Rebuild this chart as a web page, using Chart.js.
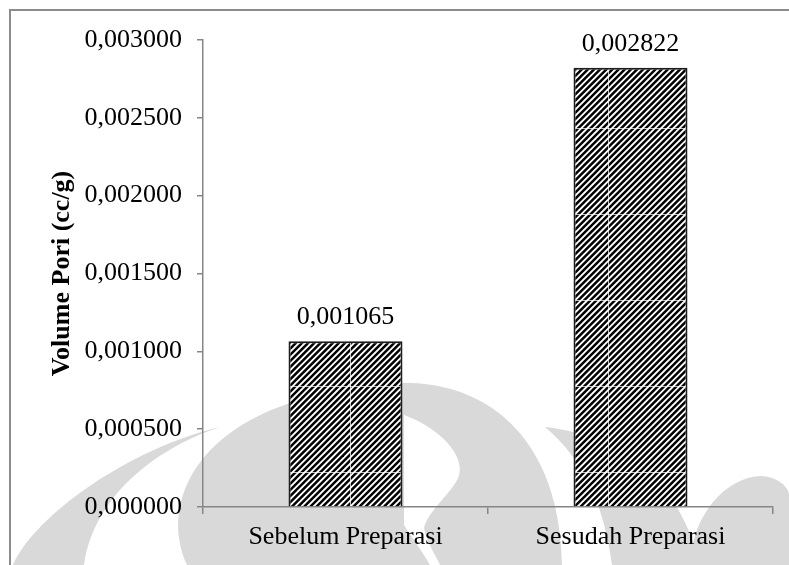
<!DOCTYPE html>
<html>
<head>
<meta charset="utf-8">
<title>Volume Pori</title>
<script src="https://cdn.jsdelivr.net/npm/chart.js@4.4.1/dist/chart.umd.min.js"></script>
<style>
  html, body { margin: 0; padding: 0; background: #fff; }
  #wrap { width: 789px; height: 565px; position: relative; }
</style>
</head>
<body>
<div id="wrap"><canvas id="poreChart"></canvas></div>
<script>
const categories = ["Sebelum Preparasi", "Sesudah Preparasi"];
const poreVolume = [0.001065, 0.002822];
const yTicks = [0, 0.0005, 0.001, 0.0015, 0.002, 0.0025, 0.003];

const SERIF = "'Liberation Serif', 'Times New Roman', serif";
const AXIS_GREY = "#868686";

// comma decimal, six places
const fmt = v => v.toFixed(6).replace(".", ",");

// wide upward diagonal hatch, tiled every 86px (the tile seams stay faintly visible)
function makeHatch(ctx) {
  const size = 86, n = 14, step = size / n;
  const tile = document.createElement("canvas");
  tile.width = size;
  tile.height = size;
  const t = tile.getContext("2d");
  t.fillStyle = "#fff";
  t.fillRect(0, 0, size, size);
  t.strokeStyle = "#000";
  t.lineWidth = 2.5;
  for (let i = -2; i <= 2 * n + 2; i++) {
    const c = i * step;
    t.beginPath();
    t.moveTo(c + 10, -10);
    t.lineTo(c - size - 10, size + 10);
    t.stroke();
  }
  t.fillStyle = "rgba(255,255,255,0.75)";
  t.fillRect(6, 0, 1, size);
  t.fillRect(0, 42, size, 1);
  return ctx.createPattern(tile, "repeat");
}

// page frame and the grey logo watermark behind the chart
const backdrop = {
  id: "backdrop",
  beforeDraw(chart) {
    const c = chart.ctx;
    c.save();
    c.fillStyle = "#d9d9d9";

    c.beginPath();
    c.moveTo(13, 565);
    c.bezierCurveTo(35, 515, 130, 448, 220, 427);
    c.bezierCurveTo(165, 445, 95, 490, 84, 565);
    c.closePath();
    c.fill();

    c.beginPath();
    c.moveTo(187, 565);
    c.bezierCurveTo(160, 505, 195, 430, 300, 400);
    c.bezierCurveTo(340, 388, 380, 383, 410, 383);
    c.bezierCurveTo(490, 385, 560, 440, 562, 565);
    c.closePath();
    c.fill();

    c.beginPath();
    c.moveTo(545, 427);
    c.bezierCurveTo(620, 435, 680, 480, 700, 565);
    c.lineTo(612, 565);
    c.bezierCurveTo(605, 510, 585, 460, 545, 427);
    c.closePath();
    c.fill();

    c.beginPath();
    c.moveTo(690, 565);
    c.bezierCurveTo(692, 515, 725, 478, 760, 476);
    c.bezierCurveTo(778, 476, 789, 488, 789, 495);
    c.lineTo(789, 565);
    c.closePath();
    c.fill();

    // inner light lens of the centre leaf, tapering down to the bottom edge
    c.fillStyle = "#fff";
    c.beginPath();
    c.moveTo(404, 415);
    c.bezierCurveTo(445, 430, 470, 462, 456, 482);
    c.bezierCurveTo(446, 498, 428, 512, 424, 528);
    c.bezierCurveTo(428, 545, 436, 556, 440, 565);
    c.lineTo(430, 565);
    c.bezierCurveTo(420, 548, 410, 535, 404, 525);
    c.closePath();
    c.fill();

    // frame
    c.fillStyle = "#8c8c8c";
    c.fillRect(9, 9, 780, 2);
    c.fillRect(9, 9, 2, 556);
    c.restore();
  }
};

// value printed above each bar
const valueLabels = {
  id: "valueLabels",
  afterDatasetsDraw(chart) {
    const c = chart.ctx;
    const meta = chart.getDatasetMeta(0);
    c.save();
    c.font = "26px " + SERIF;
    c.fillStyle = "#000";
    c.textAlign = "center";
    c.textBaseline = "alphabetic";
    meta.data.forEach((bar, i) => {
      c.fillText(fmt(poreVolume[i]), bar.x, bar.y - 17);
    });
    c.restore();
  }
};

const ctx = document.getElementById("poreChart").getContext("2d");

new Chart(ctx, {
  type: "bar",
  data: {
    labels: categories,
    datasets: [{
      data: poreVolume,
      backgroundColor: makeHatch(ctx),
      borderColor: "#1c1c1c",
      borderWidth: 2,
      barPercentage: 0.4,
      categoryPercentage: 1
    }]
  },
  options: {
    responsive: true,
    maintainAspectRatio: false,
    animation: false,
    layout: { padding: { top: 40, right: 16, left: 0, bottom: 0 } },
    scales: {
      x: {
        afterFit: s => { s.height = 58; },
        grid: {
          drawOnChartArea: false,
          color: AXIS_GREY,
          tickLength: 7,
          lineWidth: 1.5
        },
        border: { color: AXIS_GREY, width: 1.5 },
        ticks: {
          color: "#000",
          padding: 8,
          font: { size: 26, family: SERIF }
        }
      },
      y: {
        min: 0,
        max: 0.003,
        afterFit: s => { s.width = 203; },
        afterBuildTicks: s => { s.ticks = yTicks.map(v => ({ value: v })); },
        grid: {
          drawOnChartArea: false,
          color: AXIS_GREY,
          tickLength: 6,
          lineWidth: 1.5
        },
        border: { color: AXIS_GREY, width: 1.5 },
        ticks: {
          color: "#000",
          padding: 15,
          font: { size: 26, family: SERIF },
          callback: v => fmt(v)
        },
        title: {
          display: true,
          text: "Volume Pori (cc/g)",
          color: "#000",
          padding: { top: 47, bottom: 0 },
          font: { size: 26, weight: "bold", family: SERIF }
        }
      }
    },
    plugins: {
      legend: { display: false },
      tooltip: { enabled: false }
    }
  },
  plugins: [backdrop, valueLabels]
});
</script>
</body>
</html>
